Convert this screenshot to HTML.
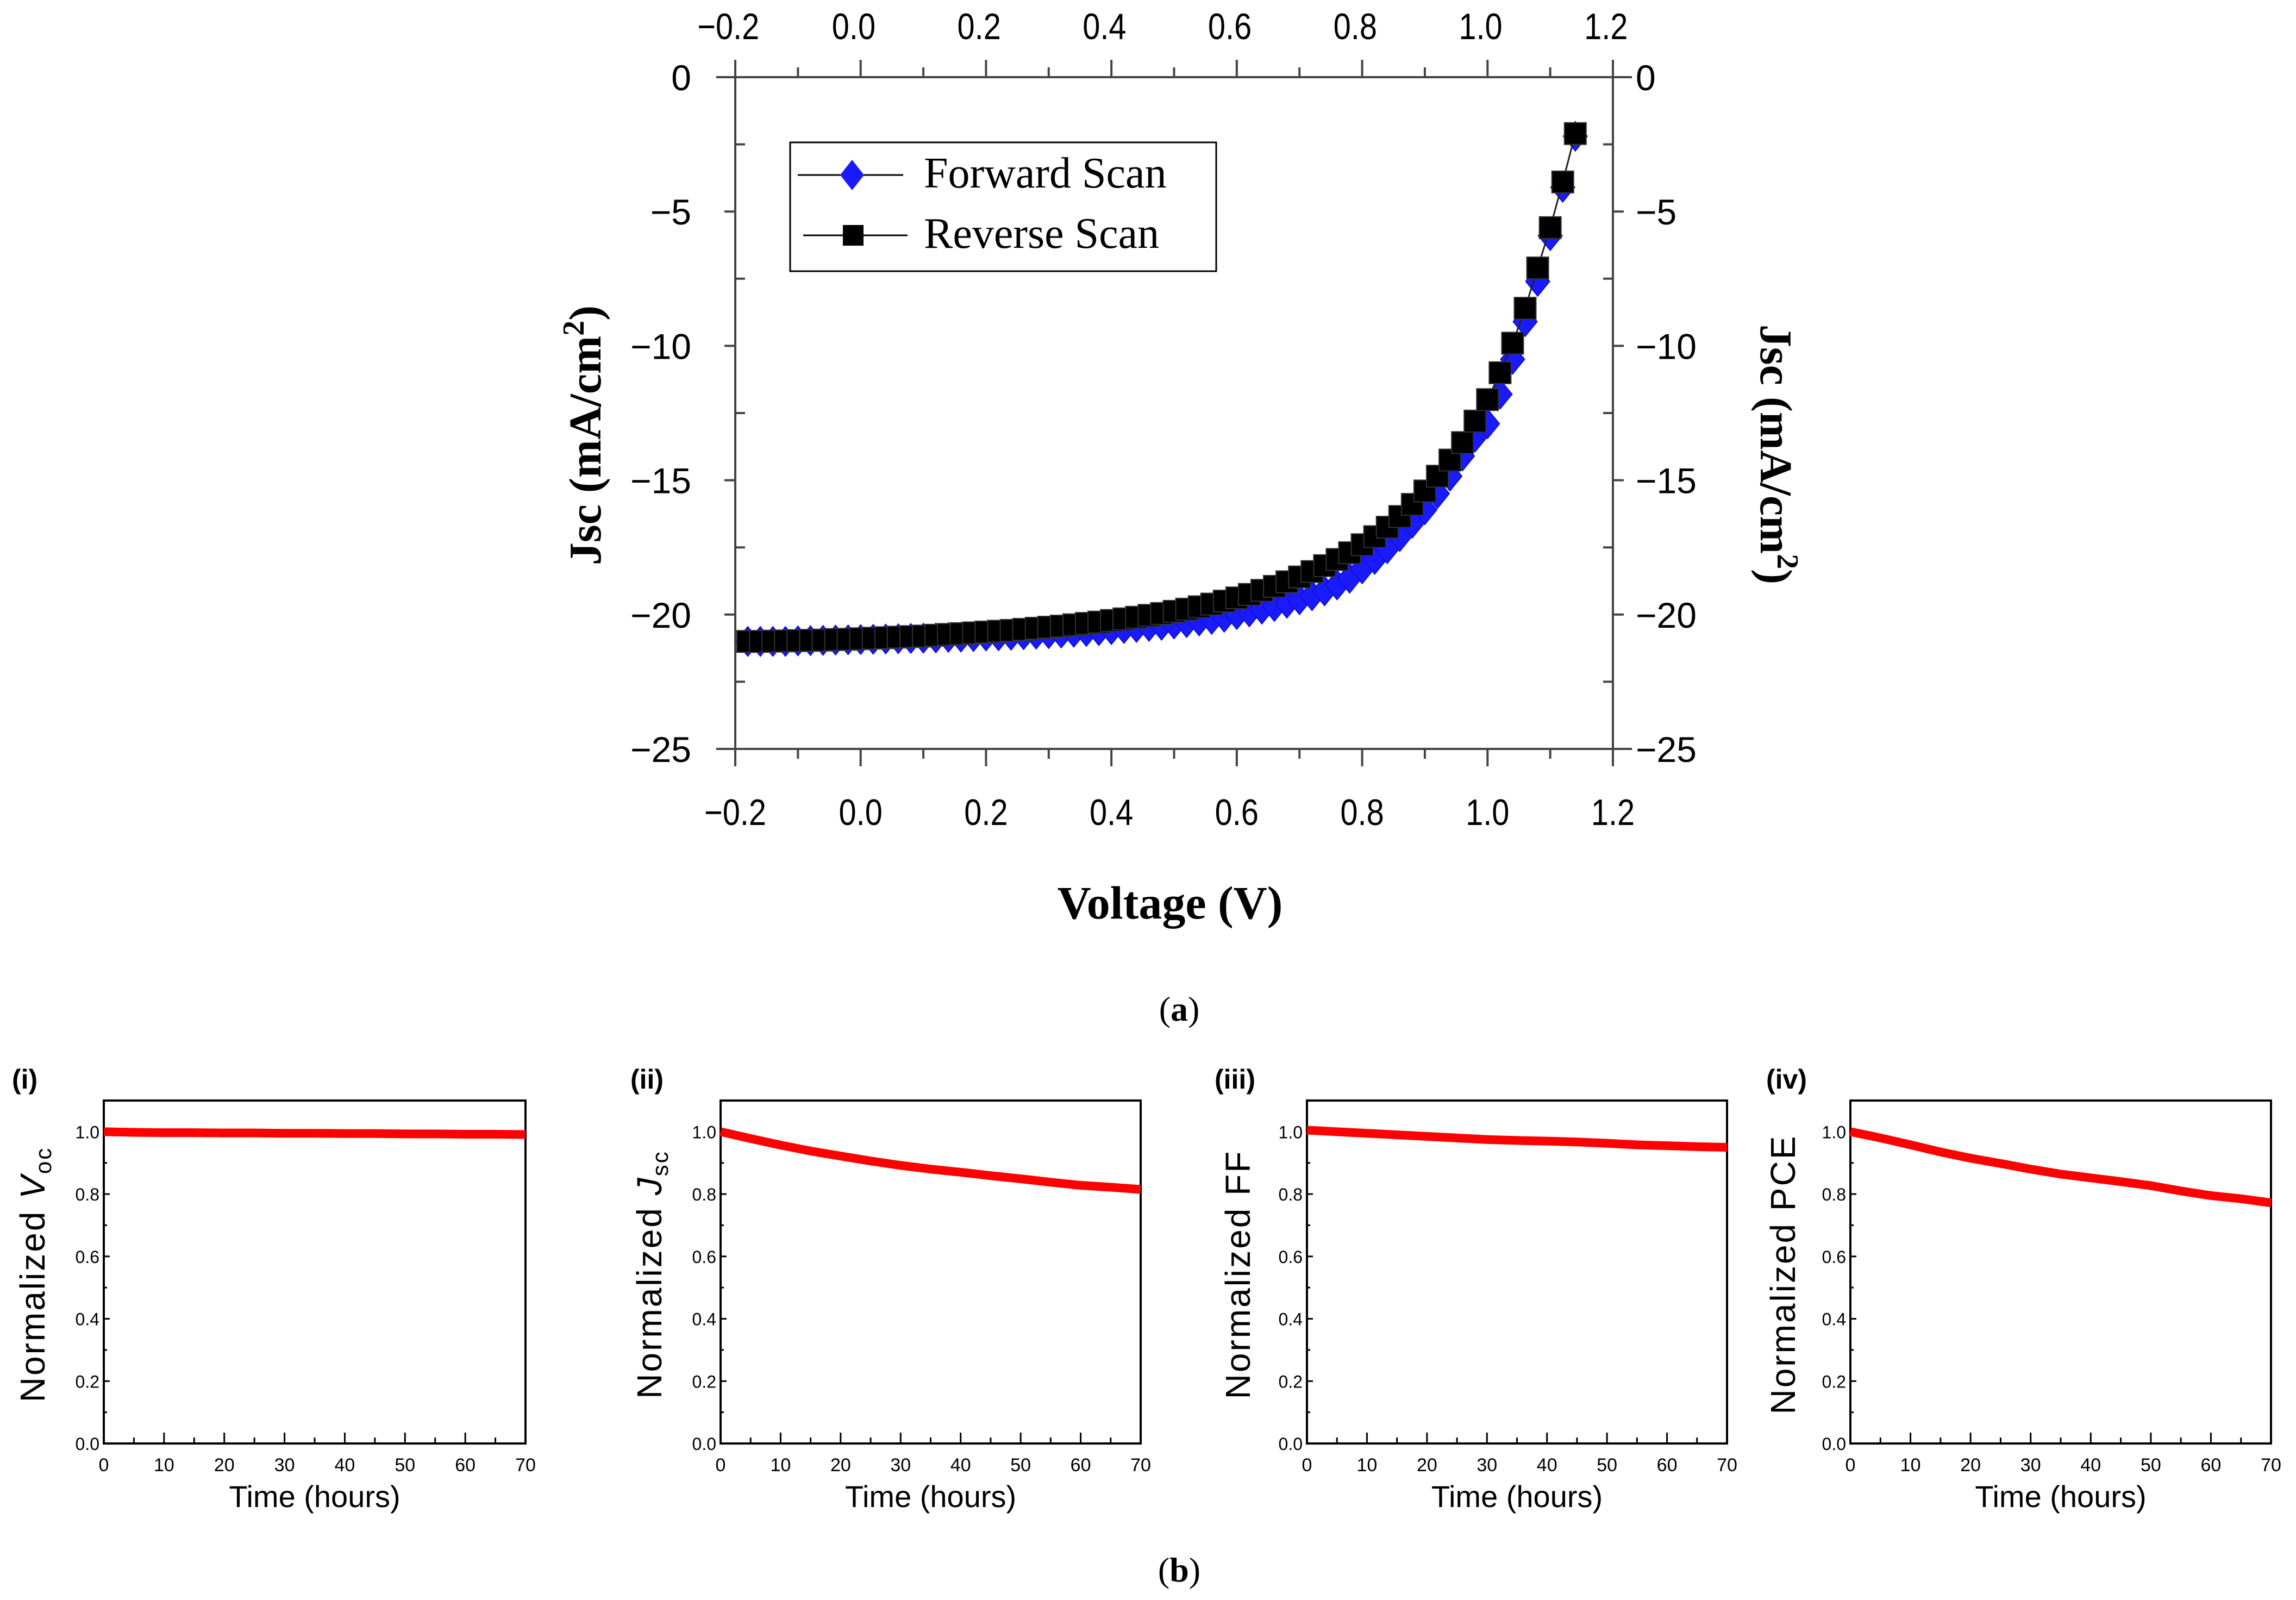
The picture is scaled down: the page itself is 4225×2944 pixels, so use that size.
<!DOCTYPE html>
<html><head><meta charset="utf-8"><style>
html,body{margin:0;padding:0;background:#fff;}
svg{display:block;}
</style></head><body>
<svg id="fig" width="4225" height="2944" viewBox="0 0 4225 2944" xmlns="http://www.w3.org/2000/svg">
<rect x="0" y="0" width="4225" height="2944" fill="#fff"/>
<g id="topChart"></g>
<g id="bottomPanels"></g>
<text x="2170" y="1878" font-family="Liberation Serif, serif" font-size="64" text-anchor="middle">(<tspan font-weight="bold">a</tspan>)</text>
<text x="2170" y="2910" font-family="Liberation Serif, serif" font-size="64" text-anchor="middle">(<tspan font-weight="bold">b</tspan>)</text>
</svg>
<script>
// ---- JV chart data ----
const voltages = [-0.18,-0.16,-0.14,-0.12,-0.10,-0.08,-0.06,-0.04,-0.02,0.00,
0.02,0.04,0.06,0.08,0.10,0.12,0.14,0.16,0.18,0.20,
0.22,0.24,0.26,0.28,0.30,0.32,0.34,0.36,0.38,0.40,
0.42,0.44,0.46,0.48,0.50,0.52,0.54,0.56,0.58,0.60,
0.62,0.64,0.66,0.68,0.70,0.72,0.74,0.76,0.78,0.80,
0.82,0.84,0.86,0.88,0.90,0.92,0.94,0.96,0.98,1.00,
1.02,1.04,1.06,1.08,1.10,1.12,1.14];
const forwardJ = [-21.0,-21.0,-21.0,-21.0,-20.98,-20.97,-20.96,-20.95,-20.94,-20.93,
-20.92,-20.91,-20.9,-20.89,-20.88,-20.87,-20.85,-20.84,-20.82,-20.8,
-20.79,-20.77,-20.75,-20.73,-20.71,-20.69,-20.66,-20.63,-20.6,-20.56,
-20.52,-20.48,-20.44,-20.4,-20.35,-20.3,-20.24,-20.18,-20.1,-20.0,
-19.9,-19.8,-19.7,-19.58,-19.45,-19.3,-19.12,-18.9,-18.65,-18.3,
-17.95,-17.55,-17.1,-16.6,-16.1,-15.5,-14.85,-14.1,-13.4,-12.9,
-11.8,-10.5,-9.1,-7.6,-5.9,-4.1,-2.2];
const reverseJ = [-21.0,-21.0,-20.99,-20.98,-20.97,-20.96,-20.95,-20.93,-20.92,-20.9,
-20.88,-20.86,-20.84,-20.82,-20.8,-20.77,-20.74,-20.71,-20.68,-20.65,
-20.62,-20.59,-20.55,-20.51,-20.47,-20.43,-20.38,-20.33,-20.28,-20.22,
-20.16,-20.1,-20.03,-19.96,-19.88,-19.8,-19.71,-19.61,-19.5,-19.38,
-19.25,-19.1,-18.95,-18.78,-18.6,-18.4,-18.18,-17.95,-17.7,-17.4,
-17.1,-16.75,-16.35,-15.9,-15.4,-14.85,-14.25,-13.6,-12.8,-12.0,
-11.0,-9.9,-8.6,-7.1,-5.6,-3.9,-2.1];
const vTicks = [-0.2,0.0,0.2,0.4,0.6,0.8,1.0,1.2];
const vTickLabels = ["\u22120.2","0.0","0.2","0.4","0.6","0.8","1.0","1.2"];
const jTicks = [0,-5,-10,-15,-20,-25];
const jTickLabels = ["0","\u22125","\u221210","\u221215","\u221220","\u221225"];

// ---- stability data (t = 0..70 h every 5 h) ----
const hours = [0,5,10,15,20,25,30,35,40,45,50,55,60,65,70];
const vocNorm = [1.0,0.998,0.997,0.997,0.996,0.996,0.995,0.995,0.994,0.994,0.993,0.993,0.992,0.992,0.991];
const jscNorm = [1.0,0.978,0.957,0.938,0.922,0.906,0.892,0.88,0.87,0.859,0.849,0.838,0.828,0.822,0.815];
const ffNorm = [1.005,1.0,0.995,0.99,0.985,0.98,0.975,0.972,0.97,0.967,0.963,0.958,0.955,0.952,0.95];
const pceNorm = [1.0,0.98,0.958,0.935,0.915,0.898,0.88,0.864,0.852,0.84,0.827,0.81,0.795,0.785,0.772];
const timeTicks = [0,10,20,30,40,50,60,70];
const normTicks = [0.0,0.2,0.4,0.6,0.8,1.0];
const normTickLabels = ["0.0","0.2","0.4","0.6","0.8","1.0"];

const NS = "http://www.w3.org/2000/svg";
function mk(parent, tag, attrs, text){
  const e = document.createElementNS(NS, tag);
  for (const k in attrs) e.setAttribute(k, attrs[k]);
  if (text !== undefined) e.textContent = text;
  parent.appendChild(e);
  return e;
}

// ===== Top JV chart =====
const topChart = document.getElementById('topChart');
const L=1353, R=2968, T=142, B=1378;
const xV = v => L + (v + 0.2) / 1.4 * (R - L);
const yJ = j => T + (j / -25) * (B - T);
const frame = mk(topChart,'rect',{x:L,y:T,width:R-L,height:B-T,fill:'none',stroke:'#444','stroke-width':4});


mk(topChart,'line',{x1:L-35,y1:T,x2:L,y2:T,stroke:'#444','stroke-width':4});
mk(topChart,'line',{x1:L-35,y1:B,x2:L,y2:B,stroke:'#444','stroke-width':4});
mk(topChart,'line',{x1:R,y1:T,x2:R+35,y2:T,stroke:'#444','stroke-width':4});
mk(topChart,'line',{x1:R,y1:B,x2:R+35,y2:B,stroke:'#444','stroke-width':4});
const FONT_T = 'Liberation Sans, sans-serif';
vTicks.forEach((v,i)=>{
  const x = xV(v);
  mk(topChart,'line',{x1:x,y1:B,x2:x,y2:B+32,stroke:'#444','stroke-width':4});
  mk(topChart,'line',{x1:x,y1:T,x2:x,y2:T-32,stroke:'#444','stroke-width':4});
  if (i<vTicks.length-1){
    const xm = xV(v+0.1);
    mk(topChart,'line',{x1:xm,y1:B,x2:xm,y2:B+18,stroke:'#444','stroke-width':4});
    mk(topChart,'line',{x1:xm,y1:T,x2:xm,y2:T-18,stroke:'#444','stroke-width':4});
  }
  const t1 = mk(topChart,'text',{x:x,y:1518,'font-family':FONT_T,'font-size':68,'text-anchor':'middle',transform:`translate(${x},0) scale(0.85,1) translate(${-x},0)`}, vTickLabels[i]);
  
  
  const t2 = mk(topChart,'text',{x:x-15,y:72,'font-family':FONT_T,'font-size':68,'text-anchor':'middle',transform:`translate(${x},0) scale(0.85,1) translate(${-x},0)`}, vTickLabels[i]);
  
  
});
jTicks.forEach((j,i)=>{
  const y = yJ(j);
  mk(topChart,'line',{x1:L-20,y1:y,x2:L,y2:y,stroke:'#444','stroke-width':4});
  mk(topChart,'line',{x1:R,y1:y,x2:R+20,y2:y,stroke:'#444','stroke-width':4});
  if (i<jTicks.length-1){
    const ym = yJ(j-2.5);
    mk(topChart,'line',{x1:L,y1:ym,x2:L+18,y2:ym,stroke:'#444','stroke-width':4});
    mk(topChart,'line',{x1:R-18,y1:ym,x2:R,y2:ym,stroke:'#444','stroke-width':4});
  }
  const a = mk(topChart,'text',{x:1272,y:y+24,'font-family':FONT_T,'font-size':66,'text-anchor':'end'}, jTickLabels[i]);
  
  
  const b = mk(topChart,'text',{x:3010,y:y+24,'font-family':FONT_T,'font-size':66,'text-anchor':'start'}, jTickLabels[i]);
  
  
});
const xt = mk(topChart,'text',{x:2153,y:1690,'font-family':'Liberation Serif, serif','font-size':86,'font-weight':'bold','text-anchor':'middle'},'Voltage (V)');


const yl = mk(topChart,'text',{x:0,y:0,'font-family':'Liberation Serif, serif','font-size':84,'font-weight':'bold','text-anchor':'middle',transform:'translate(1105,801) rotate(-90)'});


yl.appendChild(document.createTextNode('Jsc (mA/cm'));
mk(yl,'tspan',{'baseline-shift':'super','font-size':56},'2');
mk(yl,'tspan',{},')');
const yr = mk(topChart,'text',{x:0,y:0,'font-family':'Liberation Serif, serif','font-size':84,'font-weight':'bold','text-anchor':'middle',transform:'translate(3240,836) rotate(90)'});


yr.appendChild(document.createTextNode('Jsc (mA/cm'));
mk(yr,'tspan',{'baseline-shift':'super','font-size':56},'2');
mk(yr,'tspan',{},')');

const fwdG = mk(topChart,'g',{});


const revG = mk(topChart,'g',{});


const revLine = mk(revG,'polyline',{points:voltages.map((v,i)=>xV(v)+','+yJ(reverseJ[i])).join(' '),fill:'none',stroke:'#222','stroke-width':3});


voltages.forEach((v,i)=>{
  const x=xV(v), y=yJ(forwardJ[i]);
  const d = mk(fwdG,'polygon',{points:`${x},${y-27} ${x+22},${y} ${x},${y+27} ${x-22},${y}`,fill:'#1a1aff',stroke:'#1010d0','stroke-width':2});
  
  
});
voltages.forEach((v,i)=>{
  const x=xV(v), y=yJ(reverseJ[i]);
  const s = mk(revG,'rect',{x:x-20,y:y-20,width:40,height:40,fill:'#000',stroke:'#333','stroke-width':2});
  
  
});
const lg = mk(topChart,'g',{});


mk(lg,'rect',{x:1454,y:262,width:784,height:237,fill:'#fff',stroke:'#000','stroke-width':3});
mk(lg,'line',{x1:1468,y1:322,x2:1662,y2:322,stroke:'#000','stroke-width':3});
mk(lg,'polygon',{points:'1568,294 1590,322 1568,350 1546,322',fill:'#1a1aff'});
const le1 = mk(lg,'text',{x:1700,y:345,'font-family':'Liberation Serif, serif','font-size':80},'Forward Scan');


mk(lg,'line',{x1:1478,y1:433,x2:1670,y2:433,stroke:'#000','stroke-width':3});
mk(lg,'rect',{x:1551,y:414,width:38,height:38,fill:'#000'});
const le2 = mk(lg,'text',{x:1700,y:456,'font-family':'Liberation Serif, serif','font-size':80},'Reverse Scan');



// ===== Bottom panels =====
const bottomPanels = document.getElementById('bottomPanels');
const PT=2025, PB=2656;
const panels = [
  {l:191,r:967,label:'(i)',lx:22,ylab:'V',sub:'oc',ital:true,data:vocNorm,ylx:82},
  {l:1326,r:2099,label:'(ii)',lx:1160,ylab:'J',sub:'sc',ital:true,data:jscNorm,ylx:1217},
  {l:2405,r:3178,label:'(iii)',lx:2235,ylab:'FF',sub:'',ital:false,data:ffNorm,ylx:2300},
  {l:3405,r:4179,label:'(iv)',lx:3250,ylab:'PCE',sub:'',ital:false,data:pceNorm,ylx:3303}
];
panels.forEach((p,pi)=>{
  const g = mk(bottomPanels,'g',{});
  
  
  const xT = t => p.l + t/70*(p.r-p.l);
  const yN = n => PB - n/1.1*(PB-PT);
  mk(g,'rect',{x:p.l,y:PT,width:p.r-p.l,height:PB-PT,fill:'none',stroke:'#000','stroke-width':4});
  timeTicks.forEach(t=>{
    const x=xT(t);
    mk(g,'line',{x1:x,y1:PB,x2:x,y2:PB-20,stroke:'#000','stroke-width':3});
    if (t<70) mk(g,'line',{x1:xT(t+5),y1:PB,x2:xT(t+5),y2:PB-11,stroke:'#000','stroke-width':3});
    const tl = mk(g,'text',{x:x,y:2707,'font-family':'Liberation Sans, sans-serif','font-size':34,'text-anchor':'middle'},String(t));
    
    
  });
  normTicks.forEach((n,i)=>{
    const y=yN(n);
    mk(g,'line',{x1:p.l,y1:y,x2:p.l+11,y2:y,stroke:'#000','stroke-width':3});
    mk(g,'line',{x1:p.l,y1:yN(n+0.1),x2:p.l+6,y2:yN(n+0.1),stroke:'#000','stroke-width':3});
    const tl = mk(g,'text',{x:p.l-8,y:y+12,'font-family':'Liberation Sans, sans-serif','font-size':32,'text-anchor':'end'},normTickLabels[i]);
    
    
  });
  const line = mk(g,'polyline',{points:hours.map((h,i)=>xT(h)+','+yN(p.data[i])).join(' '),fill:'none',stroke:'#ff0000','stroke-width':16,'stroke-linejoin':'round'});
  
  
  const xl = mk(g,'text',{x:(p.l+p.r)/2,y:2773,'font-family':'Liberation Sans, sans-serif','font-size':56,'text-anchor':'middle'},'Time (hours)');
  
  
  const yt = mk(g,'text',{x:0,y:0,'font-family':'Liberation Sans, sans-serif','font-size':64,'letter-spacing':3,'text-anchor':'middle',transform:`translate(${p.ylx},2345) rotate(-90)`});
  
  
  yt.appendChild(document.createTextNode('Normalized '));
  mk(yt,'tspan',p.ital?{'font-style':'italic'}:{},p.ylab);
  if (p.sub) mk(yt,'tspan',{'font-size':42,dy:12},p.sub);
  const pl = mk(g,'text',{x:p.lx,y:2003,'font-family':'Liberation Sans, sans-serif','font-size':50,'font-weight':'bold'},p.label);
  
  
});
</script>
</body></html>
